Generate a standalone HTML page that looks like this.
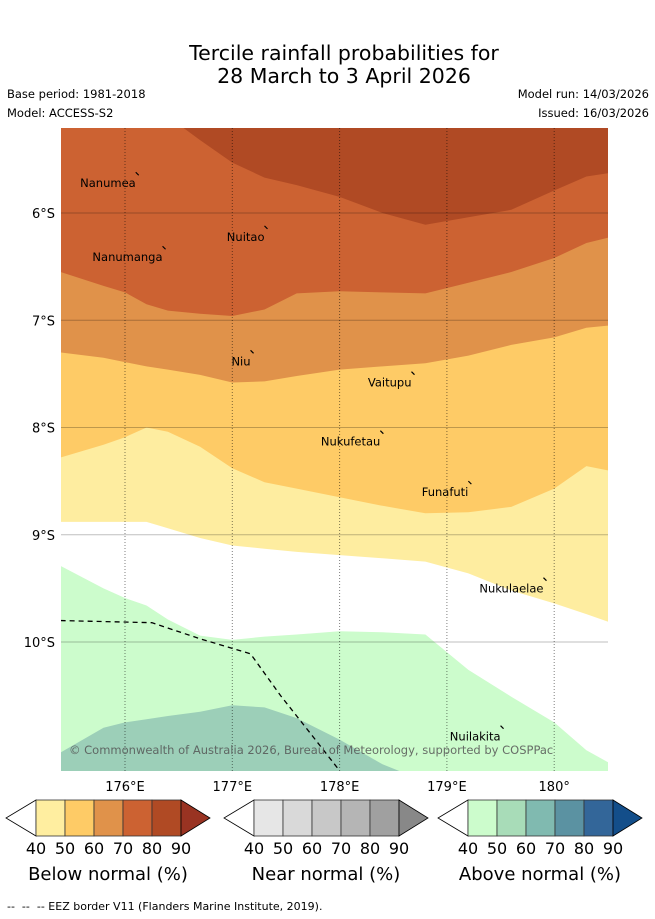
<!DOCTYPE html>
<html><head><meta charset="utf-8">
<style>
body{margin:0;background:#fff;font-family:"DejaVu Sans","Liberation Sans",sans-serif;}
#wrap{position:relative;width:655px;height:919px;overflow:hidden;}
.t{position:absolute;white-space:nowrap;}
</style></head><body>
<div id="wrap">
<div class="t" style="left:0;width:688px;text-align:center;top:42px;font-size:20.5px;line-height:23px;color:#000">Tercile rainfall probabilities for<br>28 March to 3 April 2026</div>
<div class="t" style="left:7px;top:87px;font-size:11.5px">Base period: 1981-2018</div>
<div class="t" style="left:7px;top:106px;font-size:11.5px">Model: ACCESS-S2</div>
<div class="t" style="right:6px;top:87px;font-size:11.5px">Model run: 14/03/2026</div>
<div class="t" style="right:6px;top:106px;font-size:11.5px">Issued: 16/03/2026</div>
<svg id="map" width="655" height="919" style="position:absolute;left:0;top:0"></svg>
<div class="t" style="left:7px;top:900px;font-size:11px">-- &nbsp;-- &nbsp;-- EEZ border V11 (Flanders Marine Institute, 2019).</div>
</div>
<script>
const lons=[175.4,175.8,176.0,176.2,176.4,176.7,177.0,177.3,177.6,178.0,178.4,178.8,179.2,179.6,180.0,180.3,180.5];
const b1=[5.1,5.1,5.1,5.1,5.1,5.32,5.53,5.67,5.74,5.85,6.0,6.11,6.04,5.97,5.79,5.66,5.63];
const b2=[6.55,6.68,6.74,6.85,6.91,6.94,6.96,6.90,6.75,6.73,6.74,6.75,6.65,6.55,6.42,6.28,6.23];
const b3=[7.30,7.35,7.39,7.43,7.46,7.51,7.58,7.57,7.52,7.46,7.43,7.40,7.33,7.23,7.16,7.07,7.05];
const b4=[8.28,8.16,8.09,8.00,8.04,8.18,8.38,8.51,8.57,8.65,8.73,8.80,8.79,8.74,8.57,8.36,8.40];
const b5=[8.88,8.88,8.88,8.88,8.94,9.03,9.10,9.13,9.16,9.19,9.22,9.25,9.36,9.52,9.64,9.74,9.81];
const b6=[9.29,9.50,9.59,9.66,9.79,9.94,9.98,9.95,9.93,9.90,9.91,9.93,10.26,10.51,10.75,11.01,11.12];
const b7=[11.03,10.80,10.75,10.72,10.69,10.65,10.59,10.61,10.71,10.91,11.14,11.3,11.3,11.3,11.3,11.3,11.3];
const bandColors=["#b04a24","#cc6232","#e0924a","#fecb66","#feeda0","#ffffff","#ccfccc","#9ccfb8"];
const lonTicks=[176,177,178,179,180];
const lonLabels=["176°E","177°E","178°E","179°E","180°"];
const latTicks=[6,7,8,9,10];
const latLabels=["6°S","7°S","8°S","9°S","10°S"];
const islandNames=["Nanumea","Nuitao","Nanumanga","Niu","Vaitupu","Nukufetau","Funafuti","Nukulaelae","Nuilakita"];
const islandLon=[176.1,177.3,176.35,177.17,178.67,178.38,179.2,179.9,179.5];
const islandLat=[5.62,6.12,6.31,7.28,7.48,8.03,8.5,9.4,10.78];
const eezLon=[175.4,176.25,176.7,177.17,177.45,177.75,178.0];
const eezLat=[9.8,9.82,9.97,10.11,10.5,10.88,11.2];
const ns="http://www.w3.org/2000/svg";
const svg=document.getElementById('map');
const X0=61,X1=608,Y0=128,Y1=771;
const x=l=>125+(l-176)*107.3;
const y=l=>213+(l-6)*107.25;
function el(t,a,p){const e=document.createElementNS(ns,t);for(const k in a)e.setAttribute(k,a[k]);(p||svg).appendChild(e);return e;}
const defs=el('defs',{});const cp=el('clipPath',{id:'mc'},defs);el('rect',{x:X0,y:Y0,width:X1-X0,height:Y1-Y0},cp);
const g=el('g',{'clip-path':'url(#mc)'});
const bounds=[null,b1,b2,b3,b4,b5,b6,b7];
bounds.forEach((b,i)=>{
  let d;
  if(!b){d=`M${X0-5},${Y0-5}H${X1+5}V${Y1+5}H${X0-5}Z`;}
  else{d='M'+lons.map((l,j)=>x(l).toFixed(1)+','+y(b[j]).toFixed(1)).join('L');
    d+=`L${X1+5},${y(b[b.length-1])}L${X1+5},${Y1+5}L${X0-5},${Y1+5}L${X0-5},${y(b[0])}Z`;}
  const p=el('path',{d:d,fill:bandColors[i]},g);
  
  
});
latTicks.forEach((t,i)=>{
  const ln=el('line',{x1:X0,x2:X1,y1:y(t),y2:y(t),stroke:'#000','stroke-opacity':0.25,'stroke-width':1},g);
  
  
  const tx=el('text',{x:55,y:y(t)+5,'text-anchor':'end','font-size':13,fill:'#000'});
  tx.textContent=latLabels[i];
  
  
});
lonTicks.forEach((t,i)=>{
  const ln=el('line',{x1:x(t),x2:x(t),y1:Y0,y2:Y1,stroke:'#000','stroke-opacity':0.5,'stroke-width':1,'stroke-dasharray':'1,2'},g);
  
  
  const tx=el('text',{x:x(t),y:791,'text-anchor':'middle','font-size':13,fill:'#000'});
  tx.textContent=lonLabels[i];
  
  
});
const eez=el('path',{d:'M'+eezLon.map((l,j)=>x(l)+','+y(eezLat[j])).join('L'),fill:'none',stroke:'#000','stroke-width':1.3,'stroke-dasharray':'5,4'},g);


islandNames.forEach((n,i)=>{
  const ix=x(islandLon[i]),iy=y(islandLat[i]);
  const m=el('path',{d:`M${ix},${iy}l3,3`,stroke:'#000','stroke-width':1.2},g);
  
  
  const tx=el('text',{x:ix,y:iy+15,'text-anchor':'end','font-size':11.5,fill:'#000'});
  tx.textContent=n;
  
  
});
const cr=el('text',{x:69,y:754,'font-size':11.5,fill:'#555','fill-opacity':0.85},g);
cr.textContent='© Commonwealth of Australia 2026, Bureau of Meteorology, supported by COSPPac';


const cbTicks=["40","50","60","70","80","90"];
const cbTitles=["Below normal (%)","Near normal (%)","Above normal (%)"];
const cbColors=[["#ffeea0","#fecb66","#e0924a","#cc6232","#b04a24","#993322"],
["#e6e6e6","#d9d9d9","#c8c8c8","#b5b5b5","#a0a0a0","#888888"],
["#ccfccc","#a8dcb8","#80bab0","#5b92a2","#336699","#134e8a"]];
const cbX=[36,254,468];
cbX.forEach((bx,k)=>{
  const cg=el('g',{});
  
  
  const w=29,yt=800,yb=836,ym=818;
  el('path',{d:`M${bx},${yt}L${bx-30},${ym}L${bx},${yb}Z`,fill:'#fff',stroke:'#000','stroke-width':0.8},cg);
  for(let i=0;i<5;i++)el('rect',{x:bx+i*w,y:yt,width:w,height:yb-yt,fill:cbColors[k][i],stroke:'#333','stroke-width':0.8},cg);
  el('path',{d:`M${bx+5*w},${yt}L${bx+5*w+29},${ym}L${bx+5*w},${yb}Z`,fill:cbColors[k][5],stroke:'#000','stroke-width':0.8},cg);
  cbTicks.forEach((t,i)=>{const tx=el('text',{x:bx+i*w,y:854,'text-anchor':'middle','font-size':16},cg);tx.textContent=t;});
  const tt=el('text',{x:bx+72,y:880,'text-anchor':'middle','font-size':18},cg);tt.textContent=cbTitles[k];
});
</script>
</body></html>
